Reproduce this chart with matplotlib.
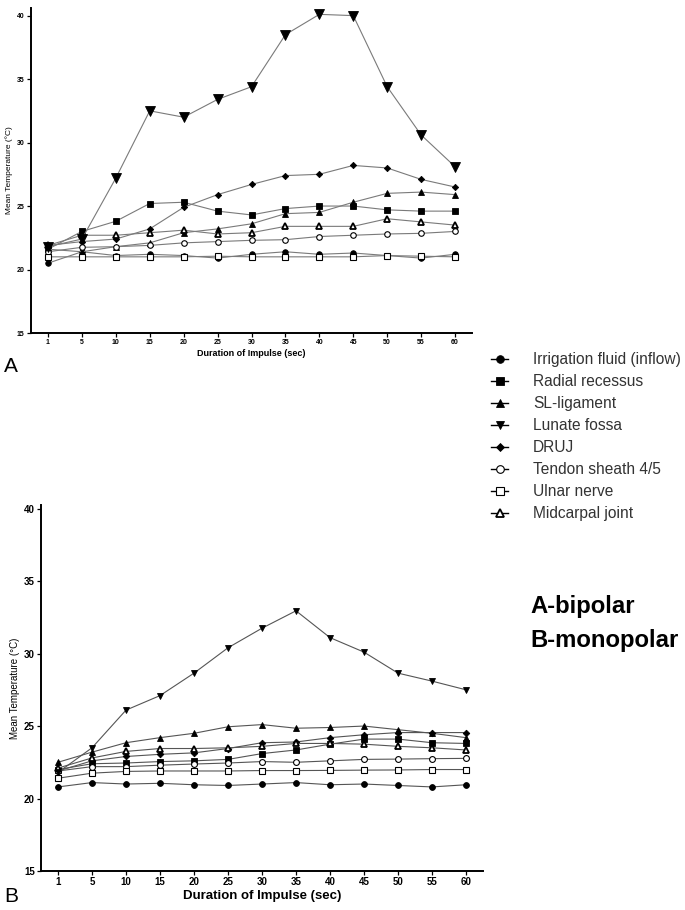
import matplotlib
matplotlib.use("Agg")
import matplotlib.pyplot as plt
from matplotlib.lines import Line2D

plt.rcParams['font.family'] = ['Liberation Sans', 'DejaVu Sans']

durations = ["1", "5", "10", "15", "20", "25", "30", "35", "40", "45", "50", "55", "60"]
series_names = ["Irrigation fluid (inflow)", "Radial recessus", "SL-ligament", "Lunate fossa",
                "DRUJ", "Tendon sheath 4/5", "Ulnar nerve", "Midcarpal joint"]

# Panel A - bipolar
a_irrigation = [20.5, 21.4, 21.1, 21.2, 21.1, 20.9, 21.2, 21.4, 21.2, 21.3, 21.1, 20.9, 21.2]
a_radial     = [21.6, 23.0, 23.8, 25.2, 25.3, 24.6, 24.3, 24.8, 25.0, 25.0, 24.7, 24.6, 24.6]
a_sl         = [21.6, 21.4, 21.8, 22.1, 22.9, 23.2, 23.6, 24.4, 24.5, 25.3, 26.0, 26.1, 25.9]
a_lunate     = [21.8, 22.4, 27.2, 32.5, 32.0, 33.4, 34.4, 38.5, 40.1, 40.0, 34.4, 30.6, 28.1]
a_druj       = [21.9, 22.2, 22.4, 23.2, 24.9, 25.9, 26.7, 27.4, 27.5, 28.2, 28.0, 27.1, 26.5]
a_tendon     = [21.4, 21.75, 21.8, 21.9, 22.1, 22.2, 22.3, 22.35, 22.6, 22.7, 22.8, 22.85, 23.0]
a_ulnar      = [21.0, 21.0, 21.0, 21.0, 21.0, 21.05, 21.0, 21.0, 21.0, 21.0, 21.1, 21.05, 21.0]
a_midcarpal  = [21.9, 22.7, 22.7, 22.9, 23.1, 22.8, 22.9, 23.4, 23.4, 23.4, 24.0, 23.75, 23.5]

# Panel B - monopolar
b_irrigation = [20.8, 21.1, 21.0, 21.05, 20.95, 20.9, 21.0, 21.1, 20.95, 21.0, 20.9, 20.8, 20.95]
b_radial     = [22.0, 22.4, 22.45, 22.55, 22.6, 22.7, 23.1, 23.35, 23.75, 24.1, 24.1, 23.85, 23.8]
b_sl         = [22.5, 23.2, 23.85, 24.2, 24.5, 24.95, 25.1, 24.85, 24.9, 25.0, 24.75, 24.5, 24.2]
b_lunate     = [21.8, 23.5, 26.1, 27.1, 28.65, 30.4, 31.75, 32.95, 31.1, 30.1, 28.65, 28.1, 27.5]
b_druj       = [21.9, 22.6, 22.9, 23.05, 23.15, 23.45, 23.85, 23.9, 24.2, 24.4, 24.55, 24.55, 24.55]
b_tendon     = [21.9, 22.2, 22.2, 22.3, 22.38, 22.45, 22.55, 22.5, 22.6, 22.7, 22.72, 22.75, 22.77]
b_ulnar      = [21.4, 21.75, 21.87, 21.9, 21.9, 21.9, 21.93, 21.93, 21.94, 21.96, 21.97, 22.0, 22.0]
b_midcarpal  = [22.1, 22.8, 23.25, 23.45, 23.45, 23.5, 23.6, 23.8, 23.8, 23.75, 23.6, 23.5, 23.35]

panel_a = [a_irrigation, a_radial, a_sl, a_lunate, a_druj, a_tendon, a_ulnar, a_midcarpal]
panel_b = [b_irrigation, b_radial, b_sl, b_lunate, b_druj, b_tendon, b_ulnar, b_midcarpal]

# marker, facecolor, size factor, edge width
styles = [
    ("o", "black", 1.0, 0.6),
    ("s", "black", 1.0, 0.6),
    ("^", "black", 1.0, 0.6),
    ("v", "black", 1.0, 0.6),
    ("D", "black", 0.8, 0.6),
    ("o", "white", 1.0, 0.8),
    ("s", "white", 1.0, 0.8),
    ("^", "white", 1.15, 1.3),
]

fig = plt.figure(figsize=(6.85, 9.10), dpi=100)

def draw(ax, data, ms, lunate_ms, tick_fs, xlabel_fs, ylabel_fs, line_col):
    x = list(range(len(durations)))
    for i, vals in enumerate(data):
        m, fc, sf, ew = styles[i]
        size = lunate_ms if i == 3 else ms * sf
        ax.plot(x, vals, color=line_col, lw=0.8, marker=m, markersize=size,
                markerfacecolor=fc, markeredgecolor="black", markeredgewidth=ew,
                zorder=3 + (i == 3))
    ax.set_xlim(-0.5, len(durations) - 0.5)
    ax.set_xticks(x)
    ax.set_xticklabels(durations, fontsize=tick_fs, fontweight="bold")
    ax.set_yticks([15, 20, 25, 30, 35, 40])
    ax.set_yticklabels(["15", "20", "25", "30", "35", "40"], fontsize=tick_fs, fontweight="bold")
    for s in ["top", "right"]:
        ax.spines[s].set_visible(False)
    for s in ["left", "bottom"]:
        ax.spines[s].set_linewidth(1.4)
    ax.tick_params(axis="both", direction="out", length=3, width=0.9, pad=1.5)
    ax.set_xlabel("Duration of Impulse (sec)", fontsize=xlabel_fs, fontweight="bold", labelpad=2)
    ax.set_ylabel("Mean Temperature (\u00b0C)", fontsize=ylabel_fs, labelpad=3)

ax1 = fig.add_axes([31/685, 1 - 333/910, (472 - 31)/685, (333 - 8)/910])
draw(ax1, panel_a, ms=4.0, lunate_ms=7.0, tick_fs=5, xlabel_fs=6.5, ylabel_fs=6, line_col="#7a7a7a")
ax1.set_ylim(15, 40.6)

ax2 = fig.add_axes([41/685, 1 - 871/910, (483 - 41)/685, (871 - 505)/910])
draw(ax2, panel_b, ms=4.2, lunate_ms=4.6, tick_fs=7, xlabel_fs=9.5, ylabel_fs=7, line_col="#555555")
ax2.set_ylim(15, 40.25)

handles = []
for i, name in enumerate(series_names):
    m, fc, sf, ew = styles[i]
    handles.append(Line2D([0], [0], color="black", lw=1.0, marker=m, markersize=5.5 * sf,
                          markerfacecolor=fc, markeredgecolor="black", markeredgewidth=ew))
leg = fig.legend(handles, series_names, loc="upper left", bbox_to_anchor=(491/685, 1 - 352/910),
                 frameon=False, fontsize=11.2, handlelength=1.1, handletextpad=1.6,
                 labelspacing=0.45, borderpad=0, borderaxespad=0)
for t in leg.get_texts():
    t.set_color("#333333")

fig.text(530/685, 1 - 607/910, "A-bipolar", fontsize=17.2, fontweight="bold", va="center", ha="left")
fig.text(530/685, 1 - 640/910, "B-monopolar", fontsize=17.2, fontweight="bold", va="center", ha="left")
fig.text(4/685, 1 - 366/910, "A", fontsize=15, va="center", ha="left")
fig.text(4/685, 1 - 897/910, "B", fontsize=15, va="center", ha="left")

fig.savefig("out.png", dpi=100)
